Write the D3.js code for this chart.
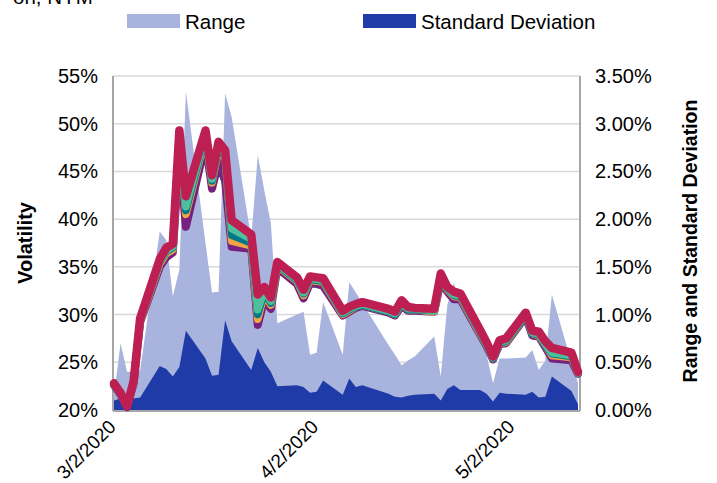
<!DOCTYPE html>
<html>
<head>
<meta charset="utf-8">
<script src="https://cdn.jsdelivr.net/npm/d3@7"></script>
<style>
  body { margin: 0; background: #fff; }
  text { font-family: "Liberation Sans", Arial, sans-serif; fill: #000; }
</style>
</head>
<body>
<div id="chart"></div>
<script>
////////////////////////////////////////////////////////////////////////
// Data

const dates = ["3/2/2020", "3/3/2020", "3/4/2020", "3/5/2020", "3/6/2020",
    "3/9/2020", "3/10/2020", "3/11/2020", "3/12/2020", "3/13/2020",
    "3/16/2020", "3/17/2020", "3/18/2020", "3/19/2020", "3/20/2020",
    "3/23/2020", "3/24/2020", "3/25/2020", "3/26/2020", "3/27/2020",
    "3/30/2020", "3/31/2020", "4/1/2020", "4/2/2020", "4/3/2020",
    "4/6/2020", "4/7/2020", "4/8/2020", "4/9/2020", "4/13/2020",
    "4/14/2020", "4/15/2020", "4/16/2020", "4/17/2020", "4/20/2020",
    "4/21/2020", "4/22/2020", "4/23/2020", "4/24/2020", "4/27/2020",
    "4/28/2020", "4/29/2020", "4/30/2020", "5/1/2020", "5/4/2020",
    "5/5/2020", "5/6/2020", "5/7/2020", "5/8/2020", "5/11/2020", "5/12/2020"];

// volatility lines (left axis, %)
const purpleVol = [22.6, 21.6, 20.3, 22.8, 29.2, 35.0, 36.0, 36.5, 47.0, 39.2,
    48.0, 43.2, 46.0, 44.0, 37.1, 36.9, 28.9, 31.6, 30.6, 34.9,
    33.2, 31.7, 33.3, 33.2, 33.0, 29.9, 30.3, 30.7, 30.9, 30.2,
    29.9, 30.9, 30.4, 30.4, 30.3, 33.5, 32.4, 31.6, 31.6, 27.9,
    26.7, 25.3, 26.9, 27.0, 29.8, 27.8, 27.7, 26.6, 25.4, 25.2, 23.8];
const orangeVol = [22.7, 21.7, 20.4, 22.9, 29.3, 35.3, 36.4, 36.8, 48.4, 40.5,
    48.6, 43.8, 47.3, 46.4, 37.7, 37.2, 29.5, 32.2, 31.0, 35.1,
    33.5, 32.0, 33.6, 33.5, 33.4, 30.0, 30.4, 30.8, 31.0, 30.3,
    30.0, 31.1, 30.5, 30.5, 30.3, 33.8, 32.6, 31.9, 31.8, 28.0,
    26.8, 25.4, 27.0, 27.1, 29.9, 28.0, 27.8, 26.8, 25.7, 25.5, 23.9];
const tealVol = [22.7, 21.7, 20.4, 22.9, 29.4, 35.5, 36.6, 37.0, 48.7, 40.9,
    48.8, 44.0, 47.6, 46.6, 38.3, 37.5, 30.0, 32.4, 31.2, 35.2,
    33.6, 32.2, 33.7, 33.6, 33.5, 30.1, 30.5, 30.8, 31.0, 30.3,
    30.0, 31.2, 30.5, 30.5, 30.4, 33.9, 32.7, 32.0, 31.9, 28.1,
    26.8, 25.4, 27.0, 27.2, 29.9, 28.0, 27.9, 26.8, 25.9, 25.6, 23.9];
const greenVol = [22.7, 21.7, 20.4, 22.9, 29.5, 35.6, 36.7, 37.1, 48.9, 41.3,
    49.0, 44.2, 47.8, 46.8, 39.0, 37.9, 30.5, 32.6, 31.4, 35.3,
    33.7, 32.3, 33.8, 33.7, 33.6, 30.2, 30.6, 30.9, 31.1, 30.4,
    30.1, 31.3, 30.6, 30.6, 30.4, 34.0, 32.8, 32.1, 32.0, 28.2,
    26.9, 25.5, 27.1, 27.3, 30.0, 28.1, 28.0, 26.9, 26.0, 25.7, 23.9];
const redVol = [22.8, 21.8, 20.4, 23.0, 29.6, 35.8, 37.0, 37.4, 49.3, 42.4,
    49.3, 44.6, 48.1, 47.2, 39.9, 38.4, 32.1, 32.9, 31.8, 35.5,
    33.9, 32.6, 34.0, 33.9, 33.8, 30.4, 30.8, 31.1, 31.3, 30.6,
    30.3, 31.5, 30.8, 30.7, 30.6, 34.3, 32.9, 32.4, 32.2, 28.4,
    27.1, 25.6, 27.3, 27.5, 30.2, 28.3, 28.2, 27.2, 26.5, 26.0, 24.0];

// areas (right axis, %)
const rangeVals = [0.15, 0.70, 0.40, 0.40, 0.42, 1.87, 1.78, 1.19, 1.47, 3.34,
    1.75, 1.23, 1.24, 3.32, 3.07, 1.80, 2.67, 2.30, 1.96, 0.91,
    1.00, 1.03, 0.58, 0.60, 1.13, 0.58, 1.34, 1.23, 1.12, 0.68,
    0.58, 0.47, 0.52, 0.56, 0.77, 0.35, 1.10, 1.33, 1.08, 0.76,
    0.58, 0.28, 0.54, 0.54, 0.55, 0.63, 0.42, 0.52, 1.21, 0.50, 0.28];
const stdDevVals = [0.10, 0.12, 0.11, 0.12, 0.13, 0.46, 0.43, 0.35, 0.45, 0.83,
    0.54, 0.36, 0.37, 0.94, 0.72, 0.42, 0.65, 0.50, 0.40, 0.25,
    0.26, 0.24, 0.18, 0.19, 0.31, 0.16, 0.33, 0.24, 0.26, 0.17,
    0.14, 0.13, 0.15, 0.16, 0.17, 0.10, 0.22, 0.26, 0.21, 0.21,
    0.17, 0.09, 0.18, 0.17, 0.16, 0.19, 0.13, 0.14, 0.35, 0.20, 0.06];

const leftTicks = [20, 25, 30, 35, 40, 45, 50, 55];
const rightTicks = [0, 0.5, 1, 1.5, 2, 2.5, 3, 3.5];
const xTickLabels = ["3/2/2020", "4/2/2020", "5/2/2020"];

////////////////////////////////////////////////////////////////////////
// Canvas and scales

const width = 717;
const height = 483;
const plot = { left: 113, right: 580, top: 76, bottom: 410 };

const parseDate = d3.timeParse("%m/%d/%Y");
const fmtDate = d3.timeFormat("%-m/%-d/%Y");
const days = dates.map(parseDate);

let svg = d3.select("#chart")
    .append("svg")
    .attr("width", width)
    .attr("height", height);

let xScale = d3.scaleTime()
    .domain([parseDate("3/2/2020"), parseDate("5/12/2020")])
    .range([plot.left + 1, plot.right - 2]);

let yLeft = d3.scaleLinear()
    .domain([20, 55])
    .range([plot.bottom, plot.top]);

let yRight = d3.scaleLinear()
    .domain([0, 3.5])
    .range([plot.bottom, plot.top]);

////////////////////////////////////////////////////////////////////////
// Gridlines

svg.append("g")
    .selectAll("line")
    .data(leftTicks.slice(1))
    .enter()
    .append("line")
    .attr("x1", plot.left)
    .attr("x2", plot.right)
    .attr("y1", d => yLeft(d))
    .attr("y2", d => yLeft(d))
    .attr("stroke", "#d9d9d9")
    .attr("stroke-width", 1.5);

////////////////////////////////////////////////////////////////////////
// Areas on the right axis

function drawArea(vals, color) {
    let area = d3.area()
        .x((d, i) => xScale(days[i]))
        .y0(yRight(0))
        .y1(d => yRight(d));
    svg.append("path")
        .datum(vals)
        .attr("d", area)
        .attr("fill", color);
}

drawArea(rangeVals, "#a9b4de");
drawArea(stdDevVals, "#1f3ba8");

////////////////////////////////////////////////////////////////////////
// Axis frame

svg.append("line")
    .attr("x1", plot.left).attr("x2", plot.left)
    .attr("y1", plot.top).attr("y2", plot.bottom + 1)
    .attr("stroke", "#a6a6a6").attr("stroke-width", 2);
svg.append("line")
    .attr("x1", plot.right).attr("x2", plot.right)
    .attr("y1", plot.top).attr("y2", plot.bottom + 1)
    .attr("stroke", "#a6a6a6").attr("stroke-width", 2);
svg.append("line")
    .attr("x1", plot.left).attr("x2", plot.right)
    .attr("y1", plot.bottom + 1).attr("y2", plot.bottom + 1)
    .attr("stroke", "#a6a6a6").attr("stroke-width", 2);

////////////////////////////////////////////////////////////////////////
// Volatility lines

function drawLine(vals, color, w) {
    let line = d3.line()
        .x((d, i) => xScale(days[i]))
        .y(d => yLeft(d));
    svg.append("path")
        .datum(vals)
        .attr("d", line)
        .attr("fill", "none")
        .attr("stroke", color)
        .attr("stroke-width", w)
        .attr("stroke-linejoin", "round")
        .attr("stroke-linecap", "round");
}

drawLine(purpleVol, "#76217f", 8);
drawLine(orangeVol, "#f2a541", 7.5);
drawLine(tealVol, "#00788a", 7.5);
drawLine(greenVol, "#4dbf9d", 7.5);
drawLine(redVol, "#bd1f52", 8.5);

////////////////////////////////////////////////////////////////////////
// Tick labels

svg.append("g")
    .selectAll("text")
    .data(leftTicks)
    .enter()
    .append("text")
    .attr("x", 98)
    .attr("y", d => yLeft(d) + 7)
    .attr("text-anchor", "end")
    .attr("font-size", 20)
    .text(d => d + "%");

svg.append("g")
    .selectAll("text")
    .data(rightTicks)
    .enter()
    .append("text")
    .attr("x", 595)
    .attr("y", d => yRight(d) + 7)
    .attr("font-size", 20)
    .text(d => d.toFixed(2) + "%");

svg.append("g")
    .selectAll("text")
    .data(xTickLabels.map(parseDate))
    .enter()
    .append("text")
    .attr("text-anchor", "end")
    .attr("font-size", 19)
    .attr("transform", d => "translate(" + (xScale(d) + 3) + ",428) rotate(-45)")
    .text(d => fmtDate(d));

////////////////////////////////////////////////////////////////////////
// Axis titles

svg.append("text")
    .attr("transform", "translate(32,243) rotate(-90)")
    .attr("text-anchor", "middle")
    .attr("font-size", 20)
    .attr("font-weight", "bold")
    .text("Volatility");

svg.append("text")
    .attr("transform", "translate(697,241) rotate(-90)")
    .attr("text-anchor", "middle")
    .attr("font-size", 19.5)
    .attr("font-weight", "bold")
    .text("Range and Standard Deviation");

////////////////////////////////////////////////////////////////////////
// Legend and clipped title

svg.append("text")
    .attr("x", 13)
    .attr("y", 4)
    .attr("font-size", 20.5)
    .text("on, NYM");

const legendItems = [
    { name: "Range", color: "#a9b4de", x: 127 },
    { name: "Standard Deviation", color: "#1f3ba8", x: 363 }
];

let legend = svg.append("g")
    .selectAll("g")
    .data(legendItems)
    .enter()
    .append("g");

legend.append("rect")
    .attr("x", d => d.x)
    .attr("y", 14)
    .attr("width", 53)
    .attr("height", 14)
    .attr("fill", d => d.color);

legend.append("text")
    .attr("x", d => d.x + 58)
    .attr("y", 29)
    .attr("font-size", 20.5)
    .text(d => d.name);
</script>
</body>
</html>
